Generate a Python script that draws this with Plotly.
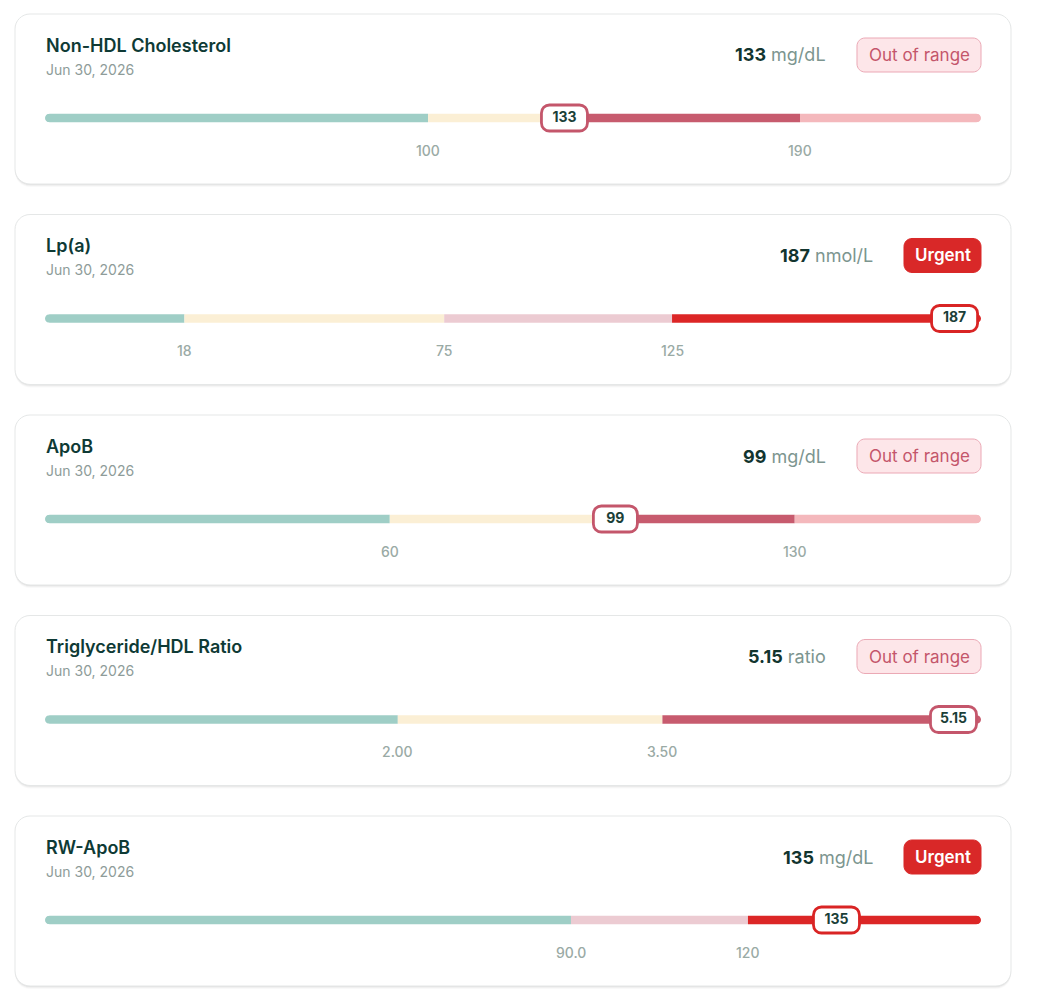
import plotly.graph_objects as go

# ---------------- data ----------------
titles = ["Non-HDL Cholesterol", "Lp(a)", "ApoB", "Triglyceride/HDL Ratio", "RW-ApoB"]
dates = ["Jun 30, 2026"] * 5
values = [133, 187, 99, 5.15, 135]
value_labels = ["133", "187", "99", "5.15", "135"]
units = ["mg/dL", "nmol/L", "mg/dL", "ratio", "mg/dL"]
statuses = ["Out of range", "Urgent", "Out of range", "Out of range", "Urgent"]

# visible scale of each bar (value at left end, value at right end)
scale_min = [7.3, -12.6, 0.4, 0.0, 0.85]
scale_max = [233.8, 192.8, 162.2, 5.306, 159.5]

# zone boundaries inside each bar and zone kinds
zone_breaks = [
    [100, 130, 190],
    [18, 75, 125],
    [60, 100, 130],
    [2.0, 3.5],
    [90, 120],
]
zone_kinds = [
    ["optimal", "borderline", "high", "veryhigh"],
    ["optimal", "borderline", "elevated", "urgent"],
    ["optimal", "borderline", "high", "veryhigh"],
    ["optimal", "borderline", "high"],
    ["optimal", "elevated", "urgent"],
]

tick_values = [[100, 190], [18, 75, 125], [60, 130], [2.0, 3.5], [90, 120]]
tick_labels = [["100", "190"], ["18", "75", "125"], ["60", "130"], ["2.00", "3.50"], ["90.0", "120"]]

# ---------------- styles ----------------
W, H = 1040, 1005
OX, OY = 8, 8          # page margin around the figure
ZONE_COLORS = {
    "optimal": "#9fcec6",
    "borderline": "#fbefd5",
    "high": "#c75b6e",
    "veryhigh": "#f4b8bc",
    "elevated": "#eccbd2",
    "urgent": "#dc2626",
}
STATUS_STYLE = {
    "Out of range": dict(fill="#fde6e9", line="#eba8b5", text="#c4566b", weight=400,
                         width=124, accent="#c4566b", value_right=828),
    "Urgent": dict(fill="#d92828", line="#d92828", text="#ffffff", weight=600,
                   width=77, accent="#d92424", value_right=875),
}
FONT = "Inter, 'Noto Sans', sans-serif"
CARD_X0, CARD_X1 = 15, 1011
CARD_H = 170
CARD_STEP = 200.5
CARD_TOP0 = 14
BAR_L, BAR_R = 45, 981
BAR_OFF = 104          # bar centre below card top
HALF = 4.3             # half bar thickness (px)


def px(x):
    return (x - OX) / W


def py(y):
    return 1 - (y - OY) / H


def rr_path(x0, y0, x1, y1, r, fx, fy):
    k = 0.5523 * r
    pts = [
        f"M {fx(x0 + r)},{fy(y0)}",
        f"L {fx(x1 - r)},{fy(y0)}",
        f"C {fx(x1 - r + k)},{fy(y0)} {fx(x1)},{fy(y0 + r - k)} {fx(x1)},{fy(y0 + r)}",
        f"L {fx(x1)},{fy(y1 - r)}",
        f"C {fx(x1)},{fy(y1 - r + k)} {fx(x1 - r + k)},{fy(y1)} {fx(x1 - r)},{fy(y1)}",
        f"L {fx(x0 + r)},{fy(y1)}",
        f"C {fx(x0 + r - k)},{fy(y1)} {fx(x0)},{fy(y1 - r + k)} {fx(x0)},{fy(y1 - r)}",
        f"L {fx(x0)},{fy(y0 + r)}",
        f"C {fx(x0)},{fy(y0 + r - k)} {fx(x0 + r - k)},{fy(y0)} {fx(x0 + r)},{fy(y0)}",
        "Z",
    ]
    return " ".join(pts)


ident = lambda v: round(v, 3)
paper_x = lambda v: round(px(v), 6)
paper_y = lambda v: round(py(v), 6)

fig = go.Figure()
shapes_paper = []
shapes_axes = []
annotations = []
layout_axes = {}

for i in range(5):
    n = i + 1
    xa = "x" if n == 1 else f"x{n}"
    ya = "y" if n == 1 else f"y{n}"
    top = CARD_TOP0 + i * CARD_STEP
    st = STATUS_STYLE[statuses[i]]

    # --- card background with soft shadow
    for off, alpha in [(3, 0.025), (2, 0.035), (1, 0.05)]:
        shapes_paper.append(dict(type="path", xref="paper", yref="paper", layer="below",
                                 path=rr_path(CARD_X0, top + off, CARD_X1, top + CARD_H + off, 15, paper_x, paper_y),
                                 fillcolor=f"rgba(0,0,0,{alpha})", line=dict(width=0)))
    shapes_paper.append(dict(type="path", xref="paper", yref="paper", layer="below",
                             path=rr_path(CARD_X0, top, CARD_X1, top + CARD_H, 15, paper_x, paper_y),
                             fillcolor="#ffffff", line=dict(color="#e5e7e7", width=1)))

    # --- badge
    bx1 = 981
    bx0 = bx1 - st["width"]
    shapes_paper.append(dict(type="path", xref="paper", yref="paper", layer="below",
                             path=rr_path(bx0, top + 24, bx1, top + 58, 8, paper_x, paper_y),
                             fillcolor=st["fill"], line=dict(color=st["line"], width=1)))
    annotations.append(dict(xref="paper", yref="paper", x=px((bx0 + bx1) / 2), y=py(top + 41),
                            text=statuses[i], showarrow=False, xanchor="center", yanchor="middle",
                            font=dict(family=FONT, size=17, color=st["text"], weight=st["weight"])))

    # --- title, date, value
    annotations.append(dict(xref="paper", yref="paper", x=px(BAR_L - 1), y=py(top + 31),
                            text=titles[i], showarrow=False, xanchor="left", yanchor="middle",
                            font=dict(family=FONT, size=18, color="#0e3a35", weight=600)))
    annotations.append(dict(xref="paper", yref="paper", x=px(BAR_L - 1), y=py(top + 55),
                            text=dates[i], showarrow=False, xanchor="left", yanchor="middle",
                            font=dict(family=FONT, size=14, color="#8e9c99")))
    annotations.append(dict(xref="paper", yref="paper", x=px(st["value_right"]), y=py(top + 41),
                            text=f"<b>{value_labels[i]}</b> <span style='color:#7c958f'>{units[i]}</span>",
                            showarrow=False, xanchor="right", yanchor="middle",
                            font=dict(family=FONT, size=18, color="#12352f")))

    # --- axes for the bar row
    lo, hi = scale_min[i], scale_max[i]
    upp = (hi - lo) / (BAR_R - BAR_L)
    rng = [lo - (BAR_L - OX) * upp, lo + (W + OX - BAR_L) * upp]
    cy = top + BAR_OFF
    layout_axes["xaxis" if n == 1 else f"xaxis{n}"] = dict(
        domain=[0, 1], range=rng, visible=False, fixedrange=True, anchor=ya)
    layout_axes["yaxis" if n == 1 else f"yaxis{n}"] = dict(
        domain=[py(cy + 18), py(cy - 18)], range=[-18, 18], visible=False, fixedrange=True, anchor=xa)

    # --- zone segments
    bounds = [lo] + zone_breaks[i] + [hi]
    for k, kind in enumerate(zone_kinds[i]):
        shapes_axes.append(dict(type="rect", xref=xa, yref=ya, layer="below",
                                x0=bounds[k], x1=bounds[k + 1], y0=-HALF, y1=HALF,
                                fillcolor=ZONE_COLORS[kind], line=dict(width=0)))
    # rounded ends (white corner masks)
    h = HALF
    c = round(0.5523 * h, 3)
    left_mask = (f"M -2,{-h-2} L {h},{-h-2} L {h},{-h} C {h-c},{-h} 0,{-c} 0,0 "
                 f"C 0,{c} {h-c},{h} {h},{h} L {h},{h+2} L -2,{h+2} Z")
    right_mask = (f"M 2,{-h-2} L {-h},{-h-2} L {-h},{-h} C {-h+c},{-h} 0,{-c} 0,0 "
                  f"C 0,{c} {-h+c},{h} {-h},{h} L {-h},{h+2} L 2,{h+2} Z")
    shapes_axes.append(dict(type="path", xref=xa, yref=ya, layer="below", xsizemode="pixel",
                            ysizemode="pixel", xanchor=lo, yanchor=0, path=left_mask,
                            fillcolor="#ffffff", line=dict(width=0)))
    shapes_axes.append(dict(type="path", xref=xa, yref=ya, layer="below", xsizemode="pixel",
                            ysizemode="pixel", xanchor=hi, yanchor=0, path=right_mask,
                            fillcolor="#ffffff", line=dict(width=0)))

    # --- value marker box
    bw = 46 if len(value_labels[i]) > 2 else 44
    shapes_axes.append(dict(type="path", xref=xa, yref=ya, layer="below", xsizemode="pixel",
                            ysizemode="pixel", xanchor=values[i], yanchor=0,
                            path=rr_path(-bw / 2, -13, bw / 2, 13, 8, ident, ident),
                            fillcolor="#ffffff", line=dict(color=st["accent"], width=2.8)))

    fig.add_trace(go.Scatter(x=[values[i]], y=[0], mode="text", text=[value_labels[i]],
                             textposition="middle center", xaxis=xa, yaxis=ya,
                             textfont=dict(family=FONT, size=14, color="#1b3f38", weight=700),
                             hoverinfo="skip", showlegend=False))

    # --- tick labels
    for tv, tl in zip(tick_values[i], tick_labels[i]):
        annotations.append(dict(xref=xa, yref=ya, x=tv, y=0, yshift=-32, text=tl,
                                showarrow=False, xanchor="center", yanchor="middle",
                                font=dict(family=FONT, size=14, color="#9aaaa5", weight=500)))

fig.update_layout(
    width=W, height=H,
    margin=dict(l=0, r=0, t=0, b=0),
    paper_bgcolor="#ffffff",
    plot_bgcolor="rgba(0,0,0,0)",
    showlegend=False,
    shapes=shapes_paper + shapes_axes,
    annotations=annotations,
    **layout_axes,
)

fig.write_html("out.html")
